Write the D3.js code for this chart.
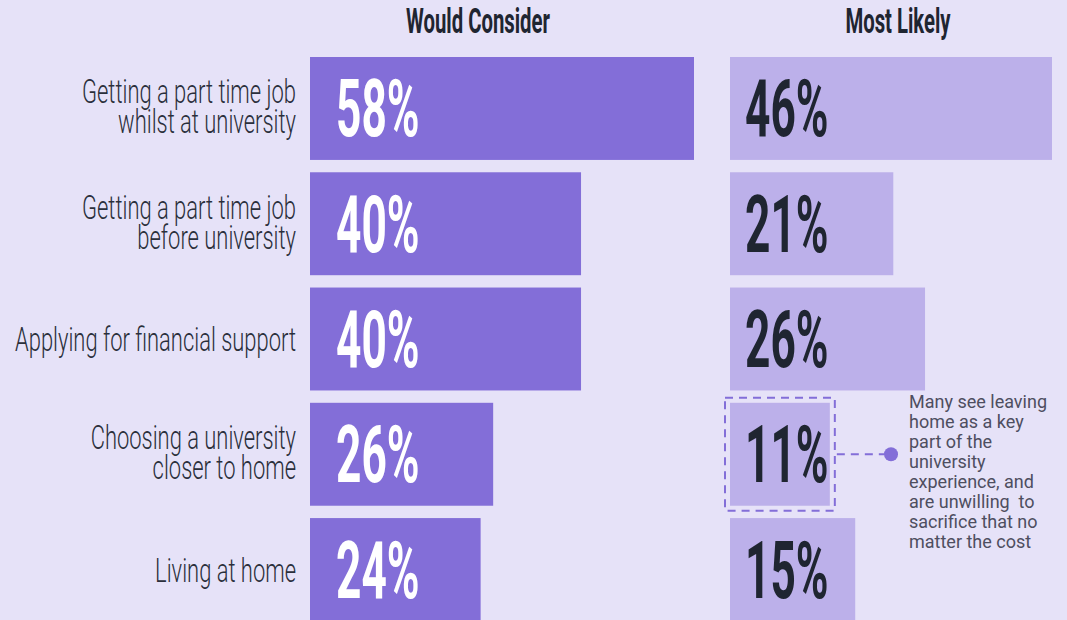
<!DOCTYPE html>
<html><head><meta charset="utf-8">
<script src="https://cdn.jsdelivr.net/npm/d3@7"></script>
<style>
html,body{margin:0;padding:0;background:#e6e2f8;}
svg{display:block;}
</style></head>
<body>
<svg id="chart" width="1067" height="620"></svg>
<script>
const categories = [
  "Getting a part time job\nwhilst at university",
  "Getting a part time job\nbefore university",
  "Applying for financial support",
  "Choosing a university\ncloser to home",
  "Living at home"
];
const wouldConsider = [58, 40, 40, 26, 24];
const mostLikely = [46, 21, 26, 11, 15];
const panelTitles = ["Would Consider", "Most Likely"];
const highlightIndex = 3;
const annotationLines = [
  "Many see leaving",
  "home as a key",
  "part of the",
  "university",
  "experience, and",
  "are unwilling  to",
  "sacrifice that no",
  "matter the cost"
];

const W = 1067, H = 620;
const svg = d3.select("#chart");
svg.append("rect").attr("width", W).attr("height", H).attr("fill", "#e6e2f8");

const y = d3.scaleBand().domain(d3.range(categories.length)).range([57, 621]).paddingInner(0.107);
const xLeft = d3.scaleLinear().domain([0, 58]).range([20, 384]);
const xRight = d3.scaleLinear().domain([0, 46]).range([30, 322]);
const leftX0 = 310, rightX0 = 730;

const dark = "#1f2531";

// titles
const titles = [{t: panelTitles[0], cx: 478}, {t: panelTitles[1], cx: 898}];
titles.forEach(d => {
  svg.append("g").attr("transform", `translate(${d.cx},33) scale(0.58,1)`)
    .append("text").attr("text-anchor", "middle")
    .attr("font-family", "Roboto, sans-serif").attr("font-weight", 700)
    .attr("font-size", 35).attr("fill", dark).text(d.t);
});

// category labels (one text element per category, lines as tspans)
categories.forEach((c, i) => {
  const lines = c.split("\n");
  const cy = y(i) + y.bandwidth() / 2;
  const base = lines.length === 1 ? cy + 12 : cy - 5;
  const t = svg.append("g").attr("transform", `translate(296,${base}) scale(0.665,1)`)
    .append("text").attr("text-anchor", "end")
    .attr("font-family", "Roboto, sans-serif").attr("font-weight", 300)
    .attr("font-size", 33).attr("fill", "#2a2f3b");
  lines.forEach((ln, j) => {
    t.append("tspan").attr("x", 0).attr("y", j * 30).text(ln);
  });
});

// left bars
svg.selectAll(".lb").data(wouldConsider).join("rect").attr("class", "lb")
  .attr("x", leftX0).attr("y", (d, i) => y(i))
  .attr("width", d => xLeft(d)).attr("height", y.bandwidth())
  .attr("fill", "#836ed8");

// right bars
svg.selectAll(".rb").data(mostLikely).join("rect").attr("class", "rb")
  .attr("x", rightX0).attr("y", (d, i) => y(i))
  .attr("width", d => xRight(d)).attr("height", y.bandwidth())
  .attr("fill", "#bcb0ea");

// value labels
function valueLabel(x, i, v, color) {
  const cy = y(i) + y.bandwidth() / 2;
  svg.append("g").attr("transform", `translate(${x},${cy + 28}) scale(0.56,1)`)
    .append("text").attr("font-family", "Roboto, sans-serif").attr("font-weight", 700)
    .attr("font-size", 79).attr("fill", color).text(v + "%");
}
wouldConsider.forEach((v, i) => valueLabel(leftX0 + 26, i, v, "#ffffff"));
mostLikely.forEach((v, i) => valueLabel(rightX0 + 15, i, v, dark));

// highlight box
const hb = y(highlightIndex);
const hw = xRight(mostLikely[highlightIndex]);
svg.append("rect").attr("x", rightX0 - 5).attr("y", hb - 5)
  .attr("width", hw + 10).attr("height", y.bandwidth() + 10)
  .attr("fill", "none").attr("stroke", "#836ed8").attr("stroke-width", 2)
  .attr("stroke-dasharray", "8,6");
const hcy = hb + y.bandwidth() / 2;
svg.append("line").attr("x1", rightX0 + hw + 7).attr("x2", 884)
  .attr("y1", hcy).attr("y2", hcy)
  .attr("stroke", "#836ed8").attr("stroke-width", 2).attr("stroke-dasharray", "8,6");
svg.append("circle").attr("cx", 891).attr("cy", hcy).attr("r", 7).attr("fill", "#836ed8");

// annotation
const at = svg.append("text").attr("font-family", "Roboto, sans-serif").attr("font-weight", 400)
  .attr("font-size", 18).attr("fill", "#4e4e60");
annotationLines.forEach((ln, j) => {
  at.append("tspan").attr("x", 909).attr("y", 408 + j * 20).attr("xml:space", "preserve").text(ln);
});
</script>
</body></html>
